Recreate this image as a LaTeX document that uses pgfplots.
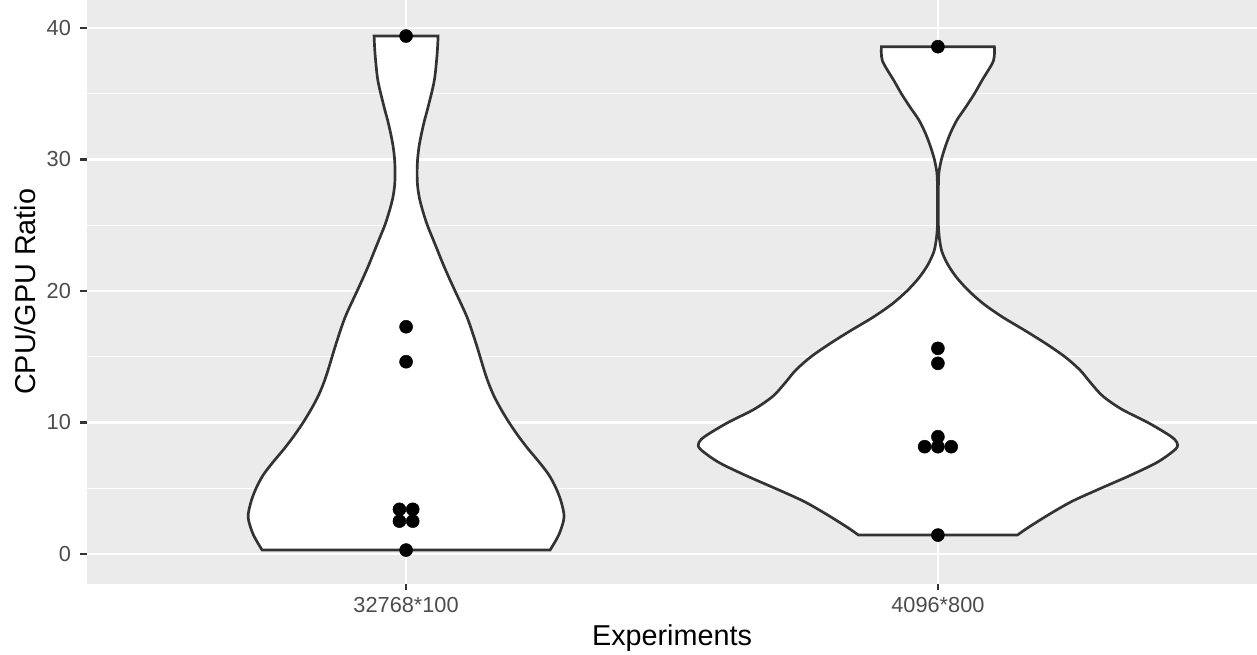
\documentclass[border=0pt]{standalone}
\usepackage{pgfplots}
\pgfplotsset{compat=1.18}
\usepackage{pgfplotstable}
\usepgfplotslibrary{fillbetween}
\usepackage{fontspec}
\setmainfont{Liberation Sans}

\definecolor{panelbg}{HTML}{EBEBEB}
\definecolor{grey20}{HTML}{333333}
\definecolor{grey30}{HTML}{4D4D4D}

% violin half-widths (in category units) against the ratio
\pgfplotstableread{
y     w
39.39 0.0602
38    0.0583
36    0.0530
34    0.0414
33    0.0348
32    0.0291
31    0.0244
30    0.0216
29    0.0207
28    0.0216
27    0.0254
26    0.0320
25    0.0400
24    0.0500
23    0.0600
22    0.0700
21    0.0808
20    0.0921
18    0.1147
16    0.1316
14    0.1466
13    0.1550
12    0.1654
11    0.1786
10    0.1936
9     0.2105
8     0.2293
7     0.2500
6     0.2688
5     0.2820
4     0.2914
2.8   0.2970
1.5   0.2876
0.30  0.2707
}\violinA

\pgfplotstableread{
y     w
38.58 0.1062
37.5  0.1043
36    0.0827
35    0.0686
34    0.0526
33    0.0357
32    0.0235
31    0.0141
30    0.0066
29    0.0019
28    0.0009
27    0.0009
26    0.0009
25    0.0009
24    0.0028
23    0.0075
22    0.0188
21    0.0357
20    0.0583
19    0.0865
18    0.1222
17    0.1635
16    0.2030
15    0.2387
14    0.2669
13    0.2876
12    0.3102
11    0.3459
10    0.3947
9     0.4361
8.5   0.4492
8     0.4474
7     0.4135
6     0.3628
5     0.3064
4     0.2519
3     0.2086
2     0.1692
1.44  0.1494
}\violinB

% individual runs, stacked as a centred dot plot
\pgfplotstableread{
x      y
1      39.39
1      17.28
1      14.62
0.9875 3.40
1.0125 3.40
0.9875 2.50
1.0125 2.50
1      0.30
2      38.58
2      15.64
2      14.50
2      8.92
1.975  8.16
2      8.16
2.025  8.16
2      1.44
}\runs

\begin{document}
\begin{tikzpicture}
\begin{axis}[
  scale only axis,
  width=468pt, height=233.44pt,
  xmin=0.4, xmax=2.6, ymin=-2.25, ymax=42.13,
  axis background/.style={fill=panelbg},
  axis line style={draw=none},
  xtick={1,2}, xticklabels={32768*100,4096*800},
  ytick={0,10,20,30,40},
  minor ytick={5,15,25,35},
  grid=both,
  major grid style={white, line width=1.07pt},
  minor grid style={white, line width=0.53pt},
  tick style={grey20, line width=1.07pt},
  major tick length=2.75pt,
  minor tick length=0pt,
  tick align=outside,
  tick pos=left,
  /pgf/number format/assume math mode=true,
  ticklabel style={font=\fontsize{8.7}{10}\selectfont, text=grey30, inner sep=0pt},
  xticklabel style={anchor=north, yshift=-2.5pt},
  yticklabel style={anchor=east, xshift=-3.5pt},
]
  \addplot[name path=A1, draw=none, smooth] table[x expr=1+\thisrow{w}, y=y] {\violinA};
  \addplot[name path=B1, draw=none, smooth] table[x expr=1-\thisrow{w}, y=y] {\violinA};
  \addplot[fill=white, draw=grey20, line width=1.07pt] fill between[of=A1 and B1, reverse=true];

  \addplot[name path=A2, draw=none, smooth] table[x expr=2+\thisrow{w}, y=y] {\violinB};
  \addplot[name path=B2, draw=none, smooth] table[x expr=2-\thisrow{w}, y=y] {\violinB};
  \addplot[fill=white, draw=grey20, line width=1.07pt] fill between[of=A2 and B2, reverse=true];

  \addplot[only marks, mark=*, mark size=2.6pt,
    mark options={fill=black, draw=black, line width=0.2pt}] table[x=x, y=y] {\runs};
\end{axis}
\node[anchor=base, inner sep=0pt, font=\fontsize{11.5}{13}\selectfont] at (234pt,-24.56pt) {Experiments};
\node[anchor=base, inner sep=0pt, rotate=90, font=\fontsize{11.5}{13}\selectfont] at (-20.6pt,116.72pt) {CPU/GPU Ratio};
\pgfresetboundingbox
\path (-34.8pt,-28.56pt) rectangle (468pt,233.44pt);
\end{tikzpicture}
\end{document}
